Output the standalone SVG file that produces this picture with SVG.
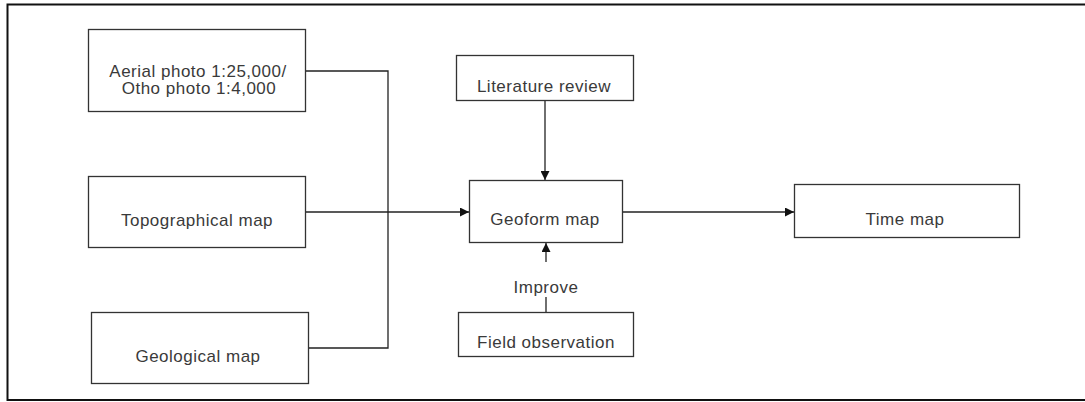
<svg xmlns="http://www.w3.org/2000/svg" width="1085" height="402" viewBox="0 0 1085 402">
  <style>
    .box { fill: #ffffff; stroke: #333333; stroke-width: 1.3; }
    .lbl { font-family: "Liberation Sans", Arial, sans-serif; font-size: 17px; letter-spacing: 0.5px; fill: #3a3a3a; text-anchor: middle; }
    .conn { fill: none; stroke: #222222; stroke-width: 1.3; }
  </style>
  <defs>
    <marker id="arrow" markerWidth="9" markerHeight="9" refX="9" refY="4.5" orient="auto" markerUnits="userSpaceOnUse">
      <path d="M0,0 L9,4.5 L0,9 Z" fill="#111111"/>
    </marker>
  </defs>

  <rect x="0" y="0" width="1085" height="402" fill="#ffffff"/>
  <!-- outer frame -->
  <rect x="7.5" y="4.5" width="1090" height="395.5" fill="none" stroke="#111111" stroke-width="2"/>

  <!-- connectors -->
  <g id="connectors">
    <polyline class="conn" points="306,71 388,71 388,348 308,348"/>
    <line class="conn" x1="306" y1="212" x2="469" y2="212" marker-end="url(#arrow)"/>
    <line class="conn" x1="545" y1="101" x2="545" y2="180" marker-end="url(#arrow)"/>
    <line class="conn" x1="546" y1="262" x2="546" y2="243" marker-end="url(#arrow)"/>
    <line class="conn" x1="546" y1="297" x2="546" y2="312"/>
    <line class="conn" x1="623" y1="212" x2="794" y2="212" marker-end="url(#arrow)"/>
    <text class="lbl" x="546" y="293">Improve</text>
  </g>

  <g id="aerial">
    <rect class="box" x="88.5" y="29.5" width="217" height="82"/>
    <text class="lbl" x="198" y="77">Aerial photo 1:25,000/</text>
    <text class="lbl" x="199" y="94">Otho photo 1:4,000</text>
  </g>

  <g id="topographical">
    <rect class="box" x="88.5" y="176.5" width="217" height="71"/>
    <text class="lbl" x="197" y="226">Topographical map</text>
  </g>

  <g id="geological">
    <rect class="box" x="91.5" y="312.5" width="217" height="71"/>
    <text class="lbl" x="198" y="362">Geological map</text>
  </g>

  <g id="literature">
    <rect class="box" x="456.5" y="55.5" width="177" height="45"/>
    <text class="lbl" x="544" y="92">Literature review</text>
  </g>

  <g id="geoform">
    <rect class="box" x="469.5" y="180.5" width="153" height="62"/>
    <text class="lbl" x="545" y="225">Geoform map</text>
  </g>

  <g id="field">
    <rect class="box" x="458.5" y="312.5" width="175" height="44"/>
    <text class="lbl" x="546" y="348">Field observation</text>
  </g>

  <g id="time">
    <rect class="box" x="794.5" y="184.5" width="225" height="53"/>
    <text class="lbl" x="905" y="225">Time map</text>
  </g>
</svg>
